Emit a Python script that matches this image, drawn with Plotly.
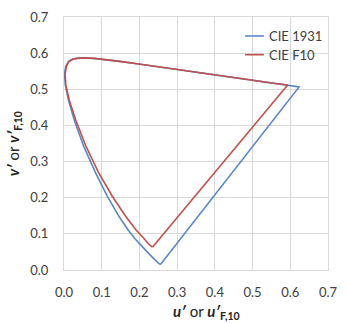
import plotly.graph_objects as go

# Spectral locus in the CIE 1976 u'v' diagram (closed by the purple line)
u_1931 = [0.2568, 0.2557, 0.2522, 0.2461, 0.2347, 0.2161, 0.1877, 0.1690, 0.1441,
          0.1147, 0.0828, 0.0521, 0.0282, 0.0119, 0.0035, 0.0014, 0.0046, 0.0123,
          0.0231, 0.0360, 0.0501, 0.0792, 0.1127, 0.1531, 0.2026, 0.2623, 0.3315,
          0.4035, 0.4692, 0.5203, 0.5565, 0.5830, 0.6005, 0.6234, 0.2568]
v_1931 = [0.0166, 0.0159, 0.0169, 0.0226, 0.0350, 0.0549, 0.0871, 0.1119, 0.1510,
          0.2044, 0.2708, 0.3427, 0.4117, 0.4698, 0.5131, 0.5432, 0.5638, 0.5770,
          0.5837, 0.5861, 0.5868, 0.5856, 0.5821, 0.5766, 0.5694, 0.5604, 0.5501,
          0.5393, 0.5296, 0.5219, 0.5165, 0.5125, 0.5099, 0.5065, 0.0166]

u_f10 = [0.2345, 0.2260, 0.2120, 0.1900, 0.1620, 0.1280, 0.0910, 0.0580, 0.0320,
         0.0140, 0.0045, 0.0030, 0.0065, 0.0135, 0.0240, 0.0370, 0.0510, 0.0800,
         0.1130, 0.1530, 0.2030, 0.2620, 0.3310, 0.4030, 0.4690, 0.5200, 0.5560,
         0.5930, 0.2345]
v_f10 = [0.0630, 0.0700, 0.0870, 0.1120, 0.1510, 0.2040, 0.2710, 0.3430, 0.4120,
         0.4700, 0.5130, 0.5430, 0.5640, 0.5770, 0.5837, 0.5861, 0.5868, 0.5856,
         0.5821, 0.5766, 0.5694, 0.5604, 0.5501, 0.5393, 0.5296, 0.5219, 0.5165,
         0.5120, 0.0630]

series = [("CIE 1931", u_1931, v_1931, "#5B87C5"),
          ("CIE F10", u_f10, v_f10, "#C0504D")]

tick_vals = [0.0, 0.1, 0.2, 0.3, 0.4, 0.5, 0.6, 0.7]
tick_text = ["0.0", "0.1", "0.2", "0.3", "0.4", "0.5", "0.6", "0.7"]

FONT = "Lato"
GRID = "#D9D9D9"
TXT = "#404040"

fig = go.Figure()
for name, u, v, color in series:
    fig.add_trace(go.Scatter(x=u, y=v, mode="lines", name=name,
                             line=dict(color=color, width=1.6),
                             showlegend=False, hoverinfo="skip"))

axis_common = dict(range=[0, 0.7], tickvals=tick_vals, ticktext=tick_text,
                   showgrid=True, gridcolor=GRID, gridwidth=1,
                   showline=True, linecolor=GRID, linewidth=1, mirror=True,
                   zeroline=False, ticks="",
                   tickfont=dict(family=FONT, size=13, color=TXT))

fig.update_xaxes(**axis_common, ticklabelstandoff=10)
fig.update_yaxes(**axis_common, ticklabelstandoff=12)

# Legend drawn as short line samples with labels
legend_y = [0.925, 0.851]
for (name, _, _, color), ly in zip(series, legend_y):
    fig.add_shape(type="line", xref="paper", yref="paper",
                  x0=0.686, x1=0.757, y0=ly, y1=ly,
                  line=dict(color=color, width=1.6))
    fig.add_annotation(xref="paper", yref="paper", x=0.768, y=ly,
                       text=name, showarrow=False, xanchor="left",
                       yanchor="middle",
                       font=dict(family=FONT, size=13, color=TXT))

# Axis titles
fig.add_annotation(xref="paper", yref="paper", x=0.54, y=-0.165,
                   text="<b><i>u′</i></b> or <b><i>u′</i><sub>F,10</sub></b>",
                   showarrow=False, xanchor="center", yanchor="middle",
                   font=dict(family=FONT, size=15, color="#262626"))
fig.add_annotation(xref="paper", yref="paper", x=-0.19, y=0.5,
                   text="<b><i>v′</i></b> or <b><i>v′</i><sub>F,10</sub></b>",
                   showarrow=False, textangle=-90, xanchor="center",
                   yanchor="middle",
                   font=dict(family=FONT, size=15, color="#262626"))

fig.update_layout(width=347, height=324,
                  margin=dict(l=64, r=9, t=13, b=54),
                  paper_bgcolor="white", plot_bgcolor="white")

fig.write_html("out.html")
